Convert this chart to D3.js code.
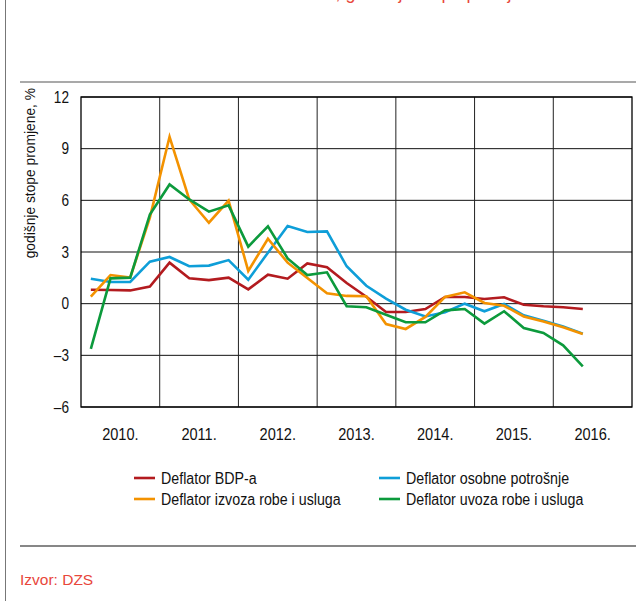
<!DOCTYPE html>
<html>
<head>
<meta charset="utf-8">
<script src="https://cdn.jsdelivr.net/npm/d3@7"></script>
<style>
  body { margin: 0; background: #fff; }
  svg { display: block; font-family: "Liberation Sans", Arial, sans-serif; }
</style>
</head>
<body>
<div class="chart"></div>
<script>
// quarterly data, 2010 Q1 - 2016 Q2
const startYear = 2010;
const years = ["2010.", "2011.", "2012.", "2013.", "2014.", "2015.", "2016."];
const yTicks = [-6, -3, 0, 3, 6, 9, 12];

const bdp = [0.81, 0.79, 0.77, 0.99, 2.38, 1.47, 1.37, 1.51, 0.83, 1.68, 1.45, 2.34,
  2.11, 1.2, 0.4, -0.48, -0.48, -0.31, 0.39, 0.39, 0.27, 0.37, -0.06, -0.15, -0.21, -0.31];
const osobna = [1.45, 1.26, 1.26, 2.44, 2.71, 2.17, 2.21, 2.53, 1.39, 2.96, 4.51, 4.16,
  4.2, 2.17, 1.04, 0.29, -0.35, -0.74, -0.5, 0.0, -0.44, -0.02, -0.68, -0.99, -1.32, -1.74];
const izvoz = [0.41, 1.66, 1.51, 5.0, 9.69, 6.05, 4.7, 5.98, 1.9, 3.77, 2.38, 1.49,
  0.6, 0.45, 0.43, -1.18, -1.47, -0.77, 0.39, 0.66, 0.04, -0.12, -0.74, -1.03, -1.37, -1.76];
const uvoz = [-2.62, 1.47, 1.51, 5.18, 6.92, 6.05, 5.34, 5.71, 3.31, 4.49, 2.63, 1.66,
  1.82, -0.15, -0.21, -0.64, -1.08, -1.08, -0.39, -0.31, -1.16, -0.44, -1.41, -1.7, -2.42, -3.64];

const seriesNames = ["Deflator BDP-a", "Deflator osobne potrošnje",
  "Deflator izvoza robe i usluga", "Deflator uvoza robe i usluga"];
const seriesColors = ["#b31b1f", "#0e9ed8", "#f39200", "#0c9a3c"];

// no condensed font installed, so squeeze the glyphs a bit
const condense = (sel, k) => {
  sel.each(function () {
    const len = this.getComputedTextLength();
    d3.select(this)
      .attr("textLength", len * k)
      .attr("lengthAdjust", "spacingAndGlyphs");
  });
};

const draw = () => {
  const w = 638;
  const h = 601;
  const left = 81, right = 632, top = 97, bottom = 407;

  const svg = d3.select(".chart")
    .append("svg")
    .attr("width", w)
    .attr("height", h);

  // frame bits of the page
  svg.append("line")
    .attr("x1", 5.5).attr("x2", 5.5).attr("y1", 0).attr("y2", h)
    .attr("stroke", "#777").attr("stroke-width", 1);
  svg.append("line")
    .attr("x1", 20).attr("x2", 636).attr("y1", 82).attr("y2", 82)
    .attr("stroke", "#555").attr("stroke-width", 1.2);
  svg.append("line")
    .attr("x1", 20).attr("x2", 636).attr("y1", 546).attr("y2", 546)
    .attr("stroke", "#111").attr("stroke-width", 1.2);

  // title, only its descenders show at the top edge
  svg.append("text")
    .attr("x", 405).attr("y", -1.5)
    .attr("text-anchor", "middle")
    .attr("fill", "#e8473b")
    .style("font-size", "18px")
    .text("Deflatori, godišnje stope promjene");

  const xScale = d3.scaleLinear()
    .domain([startYear, startYear + years.length])
    .range([left, right]);
  const yScale = d3.scaleLinear()
    .domain([-6, 12])
    .range([bottom, top]);

  // grid
  svg.append("g")
    .selectAll("line")
    .data(yTicks)
    .enter()
    .append("line")
    .attr("x1", left).attr("x2", right)
    .attr("y1", (d) => yScale(d)).attr("y2", (d) => yScale(d))
    .attr("stroke", "#111").attr("stroke-width", 1);
  svg.append("g")
    .selectAll("line")
    .data(d3.range(1, years.length))
    .enter()
    .append("line")
    .attr("x1", (d) => xScale(startYear + d)).attr("x2", (d) => xScale(startYear + d))
    .attr("y1", top).attr("y2", bottom)
    .attr("stroke", "#222").attr("stroke-width", 1);
  svg.append("rect")
    .attr("x", left).attr("y", top)
    .attr("width", right - left).attr("height", bottom - top)
    .attr("fill", "none").attr("stroke", "#000").attr("stroke-width", 1.3);

  // y axis labels
  const yAxis = d3.axisLeft(yScale)
    .tickValues(yTicks)
    .tickSize(0)
    .tickPadding(12)
    .tickFormat((d) => d < 0 ? "\u2013" + Math.abs(d) : d);
  svg.append("g")
    .attr("transform", "translate(" + left + ",0)")
    .call(yAxis)
    .call((g) => g.select(".domain").remove())
    .selectAll("text")
    .attr("fill", "#111")
    .style("font-size", "16px")
    .style("font-family", "'Liberation Sans', sans-serif")
    .call(condense, 0.85);

  // x axis labels (years, centred in each year)
  svg.append("g")
    .selectAll("text")
    .data(years)
    .enter()
    .append("text")
    .attr("x", (d, i) => xScale(startYear + i + 0.5))
    .attr("y", 440)
    .attr("text-anchor", "middle")
    .attr("fill", "#111")
    .style("font-size", "16px")
    .text((d) => d)
    .call(condense, 0.91);

  svg.append("text")
    .attr("transform", "rotate(-90)")
    .attr("x", -88)
    .attr("y", 35)
    .attr("text-anchor", "end")
    .attr("fill", "#111")
    .style("font-size", "15px")
    .text("godišnje stope promjene, %")
    .call(condense, 0.92);

  // lines
  const line = d3.line()
    .x((d, i) => xScale(startYear + (i + 0.5) / 4))
    .y((d) => yScale(d));

  [bdp, osobna, izvoz, uvoz].forEach((s, k) => {
    svg.append("path")
      .datum(s)
      .attr("d", line)
      .attr("fill", "none")
      .attr("stroke", seriesColors[k])
      .attr("stroke-width", 2.6)
      .attr("stroke-linejoin", "miter");
  });

  // legend
  const legendX = [134, 379];
  const legendY = [478, 499];
  seriesNames.forEach((name, k) => {
    const lx = legendX[k % 2];
    const ly = legendY[Math.floor(k / 2)];
    svg.append("line")
      .attr("x1", lx).attr("x2", lx + 21)
      .attr("y1", ly).attr("y2", ly)
      .attr("stroke", seriesColors[k]).attr("stroke-width", 2.6);
    svg.append("text")
      .attr("x", lx + 27)
      .attr("y", ly + 5.5)
      .attr("fill", "#111")
      .style("font-size", "16px")
      .text(name)
      .call(condense, 0.89);
  });

  svg.append("text")
    .attr("x", 20)
    .attr("y", 585)
    .attr("fill", "#e8473b")
    .style("font-size", "15.5px")
    .text("Izvor: DZS");
};

draw();
</script>
</body>
</html>
